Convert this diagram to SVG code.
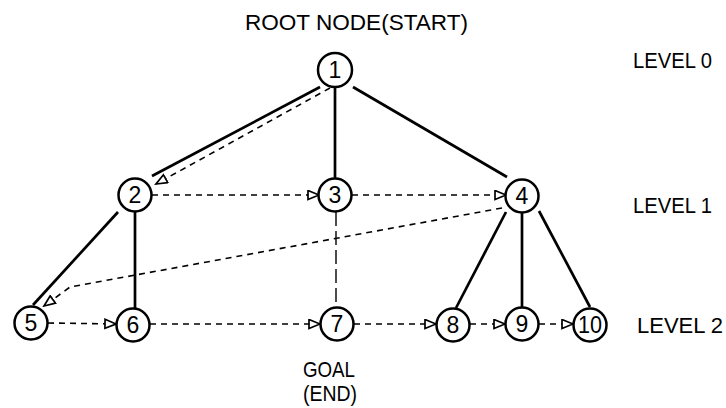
<svg xmlns="http://www.w3.org/2000/svg" width="726" height="408" viewBox="0 0 726 408">
<style>
.node circle{fill:#fff;stroke:#000;stroke-width:2.5}
.node text{font-family:"Liberation Sans",Arial,sans-serif;font-size:23px;text-anchor:middle;fill:#000}
.lbl{font-family:"Liberation Sans",Arial,sans-serif;font-size:22.5px;fill:#000}
.edge{fill:none;stroke:#000;stroke-width:2.7}
.thin{fill:none;stroke:#000;stroke-width:1.4;stroke-dasharray:14 5}
.trav{fill:none;stroke:#000;stroke-width:1.6;stroke-dasharray:6 5;marker-end:url(#arr)}
</style>
<defs>
<marker id="arr" markerUnits="userSpaceOnUse" markerWidth="14" markerHeight="12" refX="12" refY="5.5" orient="auto" viewBox="0 0 14 12">
<path d="M1,1 L12,5.5 L1,10 Z" fill="#fff" stroke="#000" stroke-width="1.7" stroke-dasharray="none"/>
</marker>
</defs>
<rect width="726" height="408" fill="#fff"/>
<g id="connectors">
<path class="edge" d="M320,87 L152,176"/>
<path class="edge" d="M335,87 L335,178"/>
<path class="edge" d="M353,87 L507,177"/>
<path class="edge" d="M118,212 L33,305"/>
<path class="edge" d="M135,211 L135,308"/>
<path class="edge" d="M506,212 L456,308"/>
<path class="edge" d="M522,212 L522,308"/>
<path class="edge" d="M539,211 L590,307"/>
<path class="thin" d="M336,212 L336,307"/>
<path class="trav" d="M330,88 L156,184"/>
<path class="trav" d="M152,195 L319,195"/>
<path class="trav" d="M352,195 L506,195"/>
<path class="trav" d="M502,208 L70,287 L44,306"/>
<path class="trav" d="M48,323 L116,324"/>
<path class="trav" d="M150,324 L320,324"/>
<path class="trav" d="M354,324 L436,324"/>
<path class="trav" d="M470,324 L505,324"/>
<path class="trav" d="M539,324 L573,324"/>
</g>
<g id="n1" class="node"><circle cx="335" cy="70" r="17"/><text x="335" y="78">1</text></g>
<g id="n2" class="node"><circle cx="135" cy="195" r="16.5"/><text x="135" y="203">2</text></g>
<g id="n3" class="node"><circle cx="335" cy="195" r="16.5"/><text x="335" y="203">3</text></g>
<g id="n4" class="node"><circle cx="522" cy="196" r="16.5"/><text x="522" y="204">4</text></g>
<g id="n5" class="node"><circle cx="31" cy="323" r="16.5"/><text x="31" y="331">5</text></g>
<g id="n6" class="node"><circle cx="133" cy="325" r="16.5"/><text x="133" y="333">6</text></g>
<g id="n7" class="node"><circle cx="337" cy="324" r="16.5"/><text x="337" y="332">7</text></g>
<g id="n8" class="node"><circle cx="453" cy="325" r="16.5"/><text x="453" y="333">8</text></g>
<g id="n9" class="node"><circle cx="522" cy="324" r="16.5"/><text x="522" y="332">9</text></g>
<g id="n10" class="node"><circle cx="590" cy="325" r="16.5"/><text x="590" y="333" textLength="24" lengthAdjust="spacingAndGlyphs">10</text></g>
<text class="lbl" x="245" y="30" textLength="223" lengthAdjust="spacingAndGlyphs">ROOT NODE(START)</text>
<text class="lbl" x="633" y="68" textLength="79" lengthAdjust="spacingAndGlyphs">LEVEL 0</text>
<text class="lbl" x="633" y="213" textLength="79" lengthAdjust="spacingAndGlyphs">LEVEL 1</text>
<text class="lbl" x="637" y="333" textLength="86" lengthAdjust="spacingAndGlyphs">LEVEL 2</text>
<text class="lbl" x="303" y="377" textLength="52" lengthAdjust="spacingAndGlyphs">GOAL</text>
<text class="lbl" x="303" y="401" textLength="54" lengthAdjust="spacingAndGlyphs">(END)</text>
</svg>
